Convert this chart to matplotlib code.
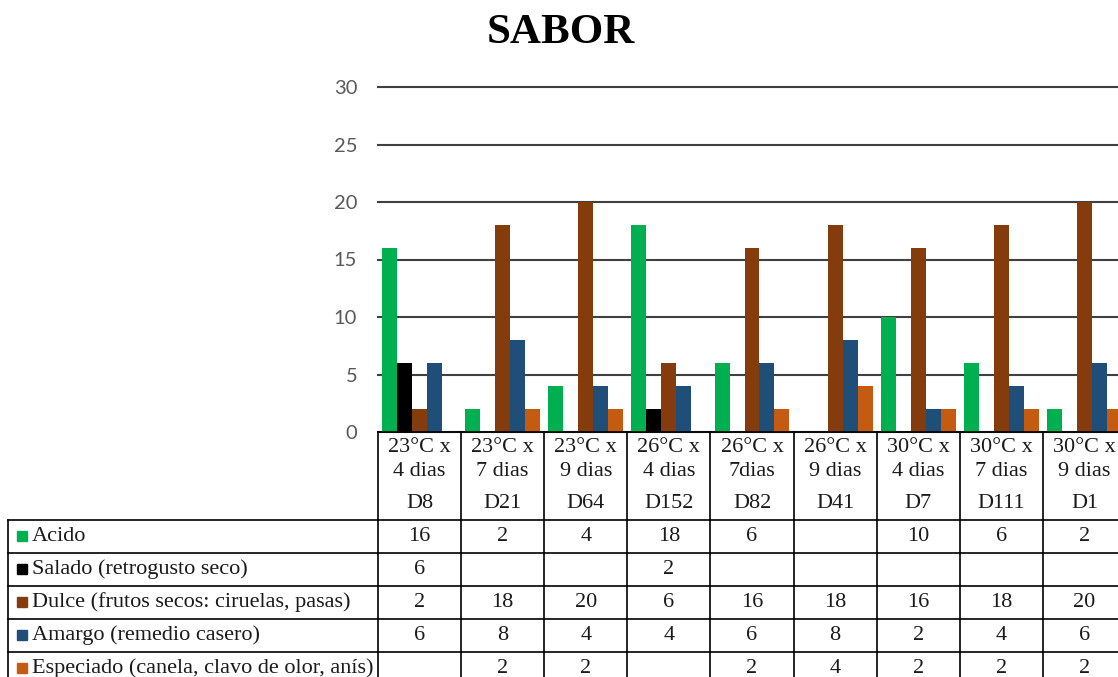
import numpy as np
import matplotlib
matplotlib.use("Agg")
import matplotlib.pyplot as plt
from matplotlib.lines import Line2D
from matplotlib.patches import Rectangle
from matplotlib.transforms import blended_transform_factory

# ---------------- data ----------------
temps = ["23°C x\n4 dias", "23°C x\n7 dias", "23°C x\n9 dias", "26°C x\n4 dias", "26°C x\n7dias",
         "26°C x\n9 dias", "30°C x\n4 dias", "30°C x\n7 dias", "30°C x\n9 dias"]
codes = ["D8", "D21", "D64", "D152", "D82", "D41", "D7", "D111", "D1"]
series_names = ["Acido", "Salado (retrogusto seco)", "Dulce (frutos secos: ciruelas, pasas)",
                "Amargo (remedio casero)", "Especiado (canela, clavo de olor, anís)"]
acido = [16, 2, 4, 18, 6, None, 10, 6, 2]
salado = [6, None, None, 2, None, None, None, None, None]
dulce = [2, 18, 20, 6, 16, 18, 16, 18, 20]
amargo = [6, 8, 4, 4, 6, 8, 2, 4, 6]
especiado = [None, 2, 2, None, 2, 4, 2, 2, 2]
colors = ["#00B050", "#000000", "#843C0C", "#1F4E79", "#C55A11"]
yticks = [0, 5, 10, 15, 20, 25, 30]
title = "SABOR"

series = [acido, salado, dulce, amargo, especiado]

W, H = 1118, 677
fig = plt.figure(figsize=(W / 100, H / 100), dpi=100)
fx = lambda px: px / W
fy = lambda py: 1 - py / H

ax = fig.add_axes([fx(378), fy(432), fx(1126) - fx(378), fy(87) - fy(432)])
ax.set_xlim(-0.5, 8.5)
ax.set_ylim(0, 30)
for s in ax.spines.values():
    s.set_visible(False)
ax.set_yticks(yticks)
ax.set_yticklabels([str(t) for t in yticks], fontfamily="Lato", fontsize=14.5, color="#595959")
ax.tick_params(axis="y", length=0, pad=15)
ax.set_xticks([])
ax.grid(axis="y", color="#404040", lw=1.5)
for gl in ax.get_ygridlines():
    gl.set_clip_on(False)
ax.set_axisbelow(True)

x = np.arange(len(codes))
bw = 0.18
for k, (vals, c) in enumerate(zip(series, colors)):
    v = np.array([np.nan if val is None else val for val in vals], dtype=float)
    ax.bar(x + (k - 2) * bw, np.nan_to_num(v), width=bw, color=c, edgecolor="none", zorder=3)

# ---------------- title ----------------
fig.text(fx(561), fy(33), title, ha="center", va="center", fontsize=31, fontweight="bold",
         family="Liberation Serif")

# ---------------- data table ----------------
tr = blended_transform_factory(ax.transData, fig.transFigure)
lc = "black"
lw = 1.2
bounds = np.arange(len(codes) + 1) - 0.5
for b in bounds:
    fig.add_artist(Line2D([b, b], [fy(432), fy(690)], transform=tr, color=lc, lw=lw))
fig.add_artist(Line2D([-0.5, 8.5], [fy(432), fy(432)], transform=tr, color=lc, lw=lw))
row_lines = [520, 553, 586, 619, 652, 685]
for ry in row_lines:
    fig.add_artist(Line2D([fx(8), fx(1130)], [fy(ry), fy(ry)], transform=fig.transFigure,
                          color=lc, lw=lw))
fig.add_artist(Line2D([fx(8), fx(8)], [fy(520), fy(690)], transform=fig.transFigure, color=lc, lw=lw))

tfont = dict(family="Liberation Serif", fontsize=16, color="#1a1a1a")
for i in range(len(codes)):
    l1, l2 = temps[i].split("\n")
    fig.text(i, fy(448), l1, transform=tr, ha="center", va="center", **tfont)
    fig.text(i, fy(472), l2, transform=tr, ha="center", va="center", **tfont)
    fig.text(i, fy(503), codes[i], transform=tr, ha="center", va="center", **tfont)

row_centers = [536.5, 569.5, 602.5, 635.5, 668.5]
for r, (vals, name, c) in enumerate(zip(series, series_names, colors)):
    yc = row_centers[r]
    for i, val in enumerate(vals):
        if val is not None:
            fig.text(i, fy(yc), str(val), transform=tr, ha="center", va="center", **tfont)
    fig.add_artist(Rectangle((fx(17), fy(yc + 4.5)), fx(10), fy(yc - 5.5) - fy(yc + 4.5),
                             transform=fig.transFigure, color=c))
    fig.text(fx(32), fy(yc), name, ha="left", va="center", **tfont)

fig.savefig("out.png", dpi=100)
